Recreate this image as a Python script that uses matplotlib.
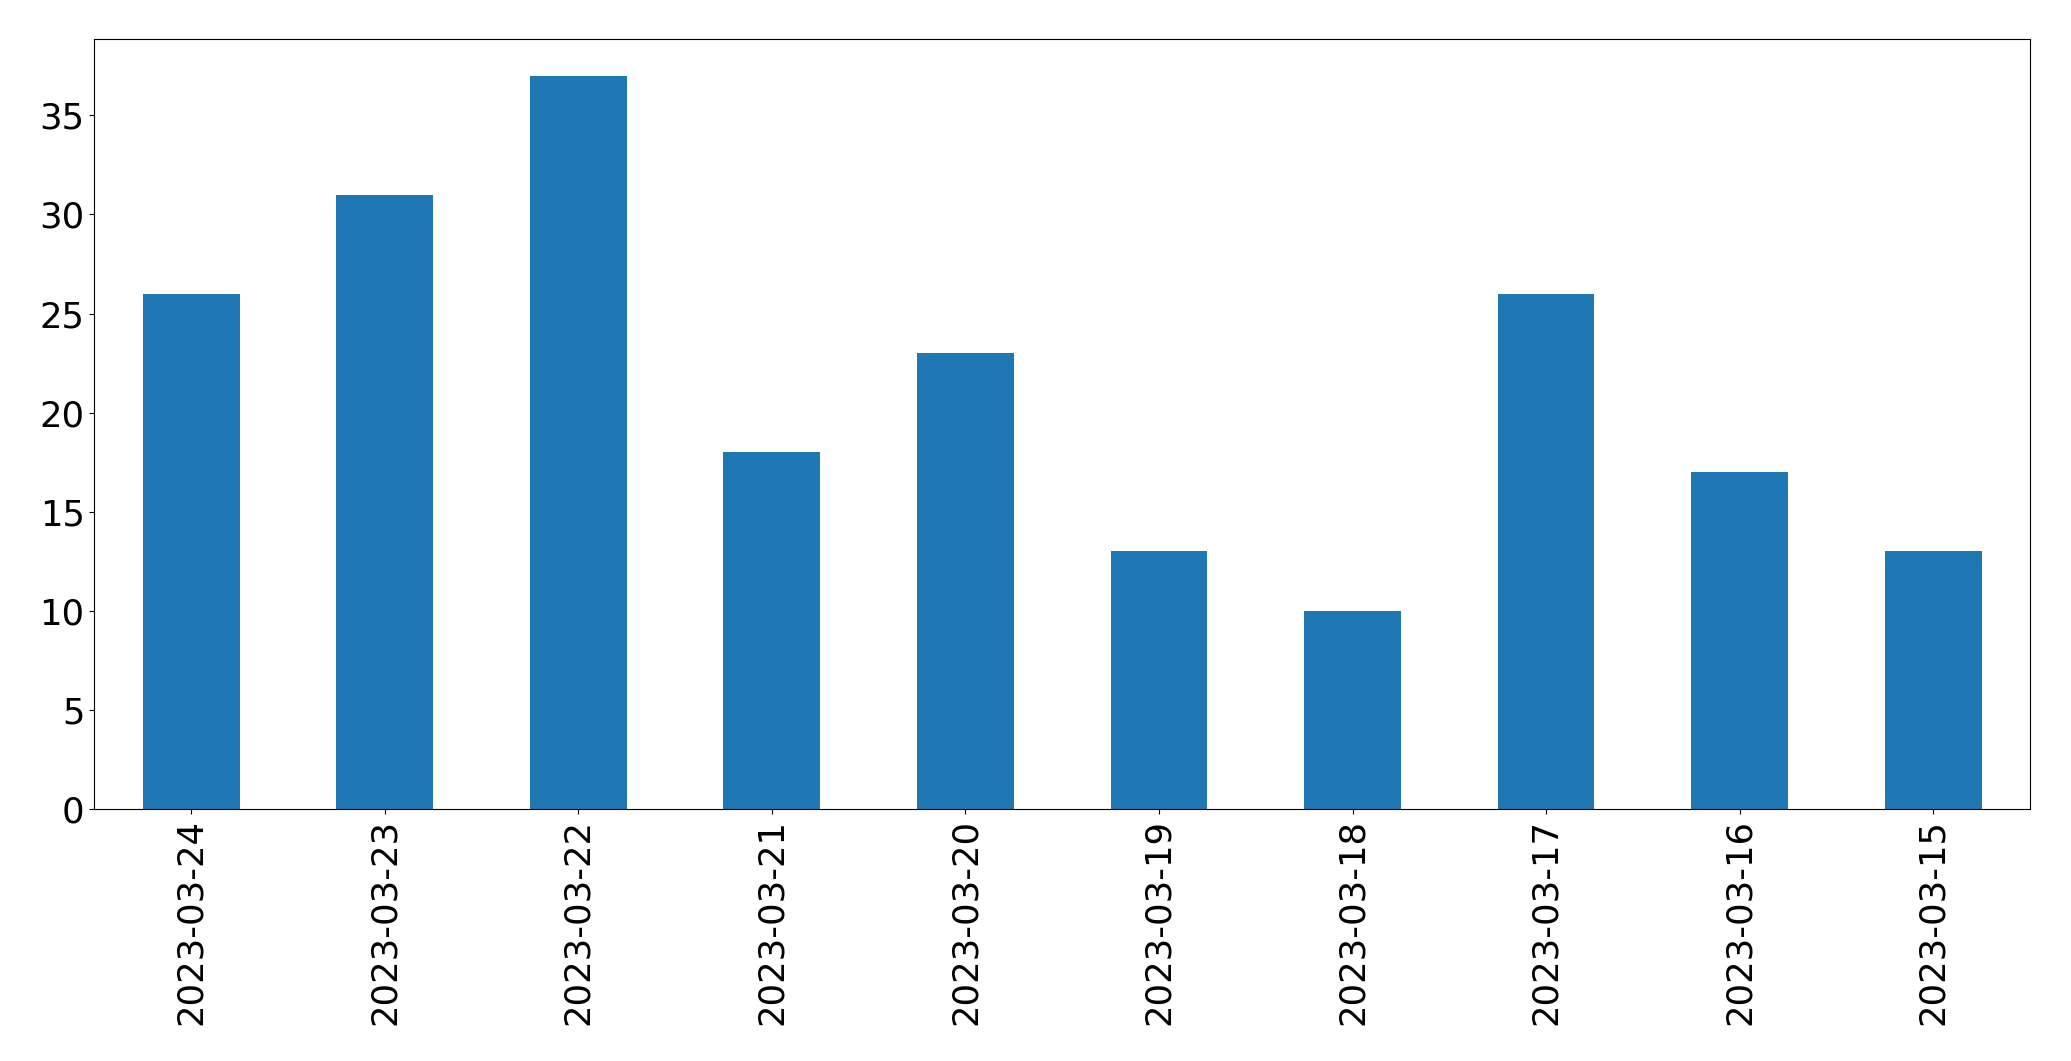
import matplotlib
matplotlib.use("Agg")
import matplotlib.pyplot as plt
import pandas as pd

## daily counts, newest first as in the source
dates = ['2023-03-24', '2023-03-23', '2023-03-22', '2023-03-21', '2023-03-20',
         '2023-03-19', '2023-03-18', '2023-03-17', '2023-03-16', '2023-03-15']
counts = [26, 31, 37, 18, 23, 13, 10, 26, 17, 13]

s = pd.Series(counts, index=dates)

fig = plt.figure(figsize=(20.71, 10.61), dpi=100)
ax = fig.add_axes([0.0456, 0.2375, 0.9346, 0.7257])
s.plot.bar(ax=ax, color='#1f77b4', width=0.5)
ax.tick_params(axis='both', labelsize=25.5)
ax.set_ylim(0, max(counts) * 1.05)
plt.savefig('out.png', dpi=100)
